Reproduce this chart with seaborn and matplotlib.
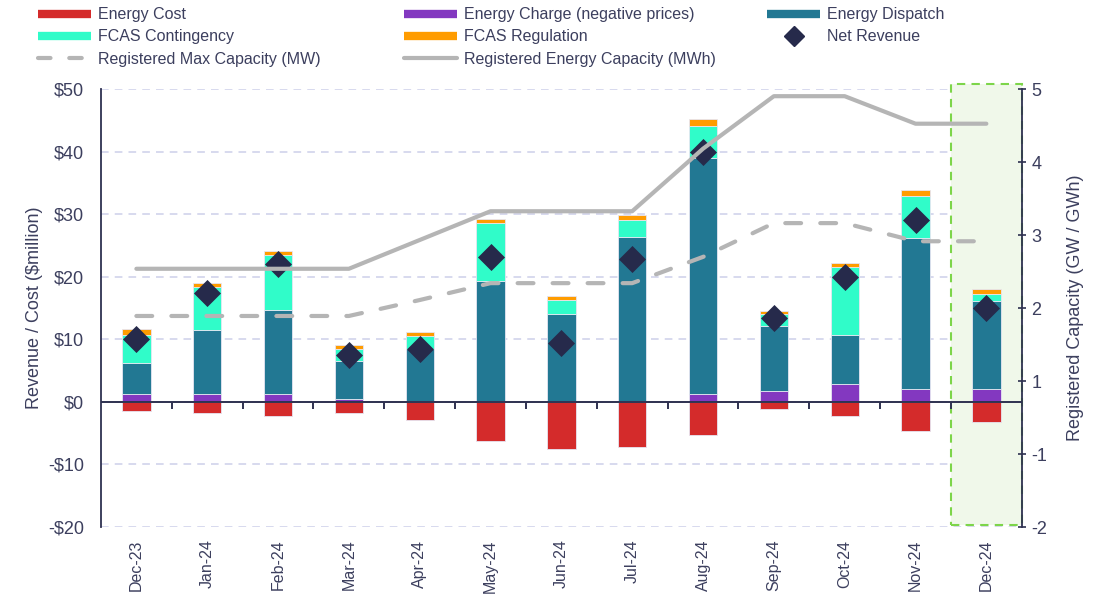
import numpy as np
import pandas as pd
import matplotlib
matplotlib.use("Agg")
import matplotlib.pyplot as plt
from matplotlib.lines import Line2D
from matplotlib.patches import Rectangle
import seaborn as sns

# Monthly revenue / cost components ($million)
months = ['Dec-23', 'Jan-24', 'Feb-24', 'Mar-24', 'Apr-24', 'May-24', 'Jun-24',
          'Jul-24', 'Aug-24', 'Sep-24', 'Oct-24', 'Nov-24', 'Dec-24']
energy_cost = [-1.5, -1.7, -2.25, -1.7, -2.9, -6.25, -7.6, -7.25, -5.3, -1.2, -2.2, -4.7, -3.2]
energy_charge = [1.2, 1.2, 1.2, 0.55, 0.2, 0.2, 0.1, 0.2, 1.2, 1.7, 2.8, 2.15, 2.0]
energy_dispatch = [5.0, 10.3, 13.5, 6.05, 8.2, 19.2, 13.9, 26.2, 37.8, 10.5, 7.9, 24.15, 14.2]
fcas_contingency = [4.55, 6.9, 8.8, 1.9, 2.1, 9.25, 2.3, 2.7, 5.2, 1.8, 10.9, 6.7, 1.1]
fcas_regulation = [0.9, 0.7, 0.6, 0.6, 0.7, 0.6, 0.7, 0.8, 1.0, 0.6, 0.7, 0.85, 0.7]
net_revenue = [10.1, 17.5, 22.0, 7.5, 8.5, 23.2, 9.5, 22.8, 40.0, 13.5, 20.0, 29.1, 15.0]

# Registered capacity (GW / GWh)
max_capacity = [1.375, 1.375, 1.375, 1.375, 1.63, 1.90, 1.90, 1.90, 2.32, 2.86, 2.86, 2.57, 2.57]
energy_capacity = [2.13, 2.13, 2.13, 2.13, 2.59, 3.05, 3.05, 3.05, 4.05, 4.89, 4.89, 4.45, 4.45]

left_ticks = [-20, -10, 0, 10, 20, 30, 40, 50]
right_tick_labels = ['-2', '-1', '1', '2', '3', '4', '5']

# colours
C_COST = '#D42B2B'
C_CHARGE = '#8338C0'
C_DISPATCH = '#227893'
C_CONT = '#30FCC9'
C_REG = '#FF9C00'
C_NET = '#262A4B'
C_GREY = '#B5B5B5'
C_TEXT = '#3C3F5E'
C_AXIS = '#2E3150'

df = pd.DataFrame({
    'month': months,
    'pos': np.arange(len(months)),
    'cost': energy_cost,
    'charge': energy_charge,
    'dispatch': energy_dispatch,
    'cont': fcas_contingency,
    'reg': fcas_regulation,
    'net': net_revenue,
    'maxcap': max_capacity,
    'energycap': energy_capacity,
})

sns.set_style("white")
plt.rcParams['font.family'] = ['Liberation Sans', 'DejaVu Sans']
plt.rcParams['text.color'] = C_TEXT

fig = plt.figure(figsize=(11.07, 6.01), dpi=100)
ax = fig.add_axes([0.0912, 0.1231, 0.8318, 0.7283])

bar_kw = dict(width=0.4, saturation=1, errorbar=None, edgecolor='#E6E6F2', linewidth=0.6, ax=ax)
bottom = np.zeros(len(df))
sns.barplot(data=df, x='month', y='cost', color=C_COST, **bar_kw)
for col, colr in [('charge', C_CHARGE), ('dispatch', C_DISPATCH), ('cont', C_CONT), ('reg', C_REG)]:
    sns.barplot(data=df, x='month', y=col, color=colr, bottom=bottom.copy(), **bar_kw)
    bottom += df[col].values

sns.scatterplot(data=df, x='pos', y='net', marker='D', s=190, color=C_NET,
                edgecolor=C_NET, linewidth=0, zorder=5, ax=ax, legend=False)

ax.set_xlim(-0.5, 12.5)
ax.set_ylim(-20, 50)
ax.set_yticks(left_ticks)
ax.set_yticklabels([f'${v}' if v >= 0 else f'-${-v}' for v in left_ticks])
ax.yaxis.grid(True, color='#CDD0EA', linestyle=(0, (5, 4)), linewidth=1.1)
ax.xaxis.grid(False)
ax.set_axisbelow(True)

# highlighted month
box = Rectangle((11.5, -19.6), 1.0, 70.4, facecolor='#F0F8EA', edgecolor='#7DD54A',
                linestyle=(0, (4, 3)), linewidth=1.5, clip_on=False, zorder=0.8)
ax.add_patch(box)

ax.set_xticks(df['pos'])
ax.set_xticklabels(months, rotation=90, fontsize=11.5, color=C_TEXT)
ax.tick_params(axis='x', length=0, pad=9)
ax.tick_params(axis='y', length=0, pad=12, labelsize=13, labelcolor=C_TEXT)
ax.set_xlabel('')
ax.set_ylabel('Revenue / Cost ($million)', fontsize=13, color=C_TEXT, labelpad=4)

for s in ['top', 'right', 'bottom']:
    ax.spines[s].set_visible(False)
ax.spines['left'].set_color(C_AXIS)
ax.spines['left'].set_linewidth(1.3)

# zero line with category separators
ax.axhline(0, color=C_AXIS, linewidth=1.4, zorder=4)
zero = ax.secondary_xaxis(20 / 70)
zero.set_xticks(np.arange(0.5, 12, 1))
zero.tick_params(length=5, width=1.4, color=C_AXIS, labelbottom=False, direction='out')
zero.spines['bottom'].set_visible(False)
zero.set_zorder(6)

# capacity axis
ax2 = ax.twinx()
sns.lineplot(data=df, x='pos', y='maxcap', color=C_GREY, linewidth=3, ax=ax2)
sns.lineplot(data=df, x='pos', y='energycap', color=C_GREY, linewidth=3, ax=ax2)
ax2.lines[0].set_dashes((3.8, 4.6))
ax2.lines[0].set_dash_capstyle('round')
ax2.set_ylim(-2, 5)
ax2.set_yticks(np.linspace(-2, 5, len(right_tick_labels)))
ax2.set_yticklabels(right_tick_labels)
ax2.tick_params(axis='y', direction='inout', length=6, width=1.2, color=C_AXIS,
                labelsize=13, labelcolor=C_TEXT, pad=4)
ax2.set_ylabel('Registered Capacity (GW / GWh)', fontsize=13, color=C_TEXT, labelpad=14)
ax2.set_xlabel('')
ax2.grid(False)
for s in ['top', 'left', 'bottom']:
    ax2.spines[s].set_visible(False)
ax2.spines['right'].set_color(C_AXIS)
ax2.spines['right'].set_linewidth(1.3)
ax2.set_xlim(-0.5, 12.5)

# legend, three columns placed separately
def bar_handle(c):
    return Line2D([0], [0], color=c, linewidth=6, solid_capstyle='butt')

cols = [
    ([bar_handle(C_COST), bar_handle(C_CONT),
      Line2D([0], [0], color=C_GREY, linewidth=3, linestyle=(0, (3, 4.5)), dash_capstyle='round')],
     ['Energy Cost', 'FCAS Contingency', 'Registered Max Capacity (MW)'], 0.0343),
    ([bar_handle(C_CHARGE), bar_handle(C_REG),
      Line2D([0], [0], color=C_GREY, linewidth=3)],
     ['Energy Charge (negative prices)', 'FCAS Regulation', 'Registered Energy Capacity (MWh)'], 0.365),
    ([bar_handle(C_DISPATCH),
      Line2D([0], [0], color=C_NET, marker='D', linestyle='none', markersize=10)],
     ['Energy Dispatch', 'Net Revenue'], 0.693),
]
for handles, labels, xpos in cols:
    fig.legend(handles, labels, loc='upper left', bbox_to_anchor=(xpos, 0.988),
               frameon=False, fontsize=11.5, handlelength=3.3, handletextpad=0.45,
               labelspacing=0.45, borderpad=0, borderaxespad=0, labelcolor=C_TEXT)

fig.savefig('out.png', dpi=100)
